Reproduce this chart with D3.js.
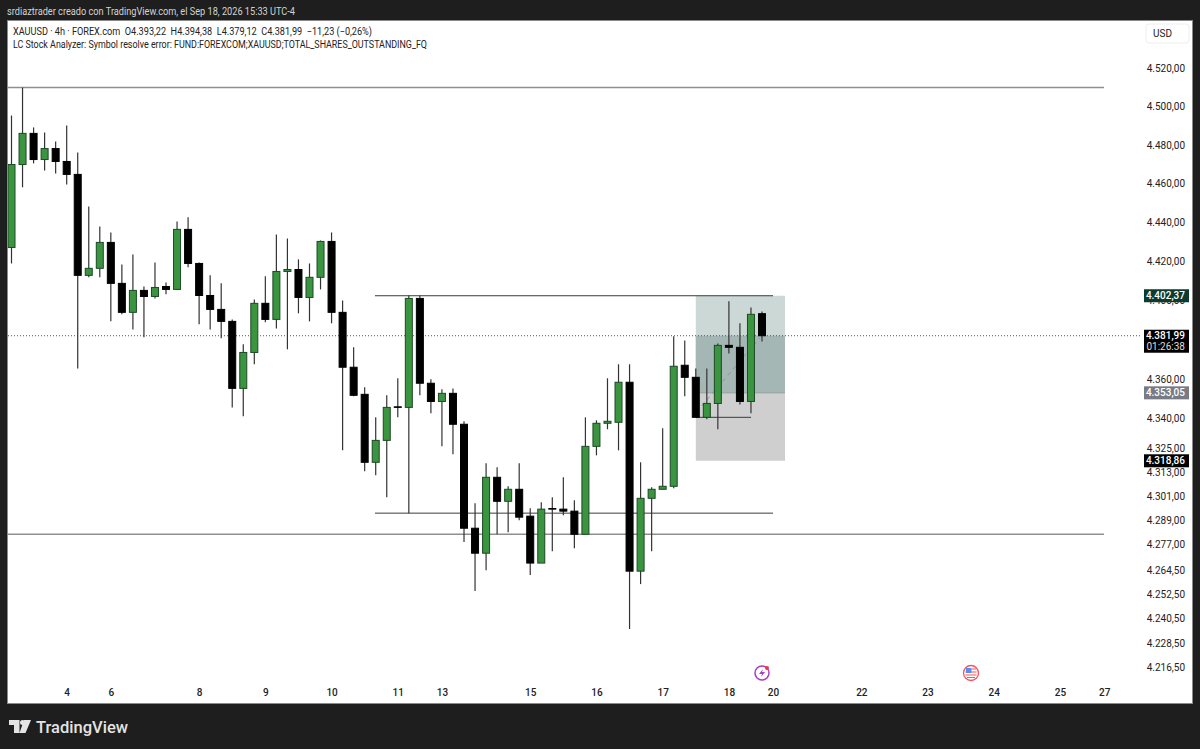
<!DOCTYPE html>
<html><head><meta charset="utf-8">
<script src="https://cdn.jsdelivr.net/npm/d3@7/dist/d3.min.js"></script>
<style>html,body{margin:0;padding:0;background:#1e1e1e}svg{display:block}text{font-family:Roboto,"Noto Sans",sans-serif}</style>
</head><body><svg id="c" width="1200" height="749"></svg>
<script>
const opens=[4427.1,4469.9,4486.1,4472.5,4478.2,4471.5,4464.8,4412.8,4416.4,4429.7,4408.7,4393.9,4405.1,4402,4407.1,4405.6,4436.4,4418.9,4402.5,4395.4,4389.3,4355.3,4373.5,4398.5,4390.3,4414.8,4415.8,4401.5,4411.8,4430.2,4393.9,4366,4352.3,4318.1,4329.1,4346,4345.7,4401,4357.9,4348.7,4352.8,4337.2,4285.2,4272.8,4310.6,4298.6,4304.6,4291.2,4267.9,4295,4294.7,4293.7,4282.2,4326.1,4337.7,4338.2,4358.4,4263.9,4300.1,4304.6,4306.1,4367,4360.9,4340.7,4347.7,4377.1,4376.1,4348.7,4393.22];
const highs=[4495.4,4510,4489.2,4486.6,4481.9,4490.2,4476.2,4448.2,4437.9,4434.8,4418.4,4423.5,4407.1,4419.4,4409.2,4440.5,4442.6,4419.4,4412.8,4408.7,4390.3,4377.6,4400.5,4412.3,4433.8,4431.7,4421,4418.9,4430.7,4434.8,4400,4376.1,4355.9,4340.7,4351.8,4360.4,4402.5,4402.5,4359.9,4354.8,4355.3,4338.7,4297.6,4317.6,4315.6,4306.1,4317.6,4295.2,4298.1,4300.6,4310.6,4299.1,4340.7,4339.2,4360.4,4367.5,4367.5,4318.1,4305.6,4335.2,4381.7,4379.6,4365.4,4365.4,4378.1,4399.5,4388.3,4396.4,4394.38];
const lows=[4418.9,4458.1,4470.5,4466.8,4465.3,4459.6,4365.4,4411.8,4411.8,4389.3,4392.9,4385.2,4381.2,4401,4403.1,4405.6,4416.9,4387.8,4385.2,4380.7,4345.7,4341.2,4367.5,4388.8,4385.7,4375.1,4393.4,4389.3,4405.6,4388.3,4324.1,4351.3,4313.6,4311.6,4300.6,4340.7,4292.7,4351.8,4342.7,4326.1,4322.1,4278.3,4254.1,4264.4,4282.2,4283.2,4289.2,4262,4267.9,4273.8,4291.7,4275.3,4282.2,4321.6,4334.7,4324.1,4235.4,4257.5,4273.8,4304.6,4305.1,4351.3,4340.7,4339.7,4334.7,4373,4347.2,4342.7,4379.12];
const closes=[4469.9,4486.1,4472.5,4478.2,4471.5,4464.8,4412.8,4416.4,4429.7,4408.7,4393.9,4405.1,4402,4406.6,4405.6,4436.4,4418.9,4402.5,4395.4,4389.3,4355.3,4373.5,4398.5,4390.3,4414.8,4415.8,4401.5,4411.8,4430.2,4393.9,4366,4351.8,4318.1,4329.1,4345.7,4345.7,4401,4357.9,4348.7,4352.8,4337.2,4285.2,4272.8,4310.6,4298.6,4304.6,4290.7,4267.9,4294.7,4294.7,4293.7,4282.2,4326.1,4337.7,4338.7,4358.4,4263.9,4300.1,4304.6,4306.1,4366.5,4360.9,4340.7,4347.7,4377.1,4376.1,4348.7,4392.9,4381.99];
const priceTicks=[4520,4500,4480,4460,4440,4420,4400,4360,4340,4325,4313,4301,4289,4277,4264.5,4252.5,4240.5,4228.5,4216.5];
const dayLabels=["4","6","8","9","10","11","13","15","16","17","18","20","22","23","24","25","27"];
const dayIndex=[5,9,17,23,29,35,39,47,53,59,65,69,77,83,89,95,99];
const fullLevels=[4510,4282.2];
const midLevels=[4402.37,4292.7];
const shortLevel=4340.7;
const lastPrice=4381.99, entryPrice=4353.05, targetPrice=4402.37, stopPrice=4318.86;

const fmt=d3.formatLocale({decimal:",",thousands:".",grouping:[3]}).format(",.2f");
const svg=d3.select("#c");
const y=d3.scaleLog().domain([4216.5,4520]).range([667.5,68.5]);
const x=d3.scaleLinear().domain([0,68]).range([11.5,762]);
const bw=7;

svg.append("rect").attr("width",1200).attr("height",749).attr("fill","#1e1e1e");
svg.append("rect").attr("x",7.5).attr("y",20.5).attr("width",1185).attr("height",683).attr("fill","#fff").attr("stroke","#8a8a8a").attr("stroke-width",1);
svg.append("clipPath").attr("id","plot").append("rect").attr("x",8).attr("y",21).attr("width",1132).attr("height",682);
const plot=svg.append("g").attr("clip-path","url(#plot)");

svg.append("text").attr("x",7).attr("y",15).attr("fill","#d4d4d4").attr("font-size",10).attr("textLength",288).attr("lengthAdjust","spacingAndGlyphs").text("srdiaztrader creado con TradingView.com, el Sep 18, 2026 15:33 UTC-4");
svg.append("text").attr("x",13).attr("y",35).attr("fill","#222").attr("font-size",10).attr("textLength",359).attr("lengthAdjust","spacingAndGlyphs").attr("xml:space","preserve").text("XAUUSD · 4h · FOREX.com  O4.393,22  H4.394,38  L4.379,12  C4.381,99  −11,23 (−0,26%)");
svg.append("text").attr("x",13).attr("y",48).attr("fill","#222").attr("font-size",10).attr("textLength",414).attr("lengthAdjust","spacingAndGlyphs").text("LC Stock Analyzer: Symbol resolve error: FUND:FOREXCOM;XAUUSD;TOTAL_SHARES_OUTSTANDING_FQ");

// position tool
const px0=x(62), px1=785;
plot.append("rect").attr("x",px0).attr("width",px1-px0).attr("y",y(targetPrice)).attr("height",y(entryPrice)-y(targetPrice)).attr("fill","#cbd8d5");
plot.append("rect").attr("x",px0).attr("width",px1-px0).attr("y",y(lastPrice)).attr("height",y(entryPrice)-y(lastPrice)).attr("fill","#a5b7b4");
plot.append("rect").attr("x",px0).attr("width",px1-px0).attr("y",y(entryPrice)).attr("height",y(stopPrice)-y(entryPrice)).attr("fill","#cfcfcf");
plot.append("line").attr("x1",px0).attr("x2",px1).attr("y1",y(entryPrice)).attr("y2",y(entryPrice)).attr("stroke","#8fa09d");
plot.append("line").attr("x1",x(62)+6).attr("x2",x(68)-2).attr("y1",y(4346.5)).attr("y2",y(4381)).attr("stroke","#8b9895").attr("stroke-dasharray","4 4");

// levels
plot.selectAll(".fl").data(fullLevels).join("line").attr("x1",8).attr("x2",1104).attr("y1",d=>y(d)).attr("y2",d=>y(d)).attr("stroke","#8f8f8f").attr("stroke-width",1.5);
plot.selectAll(".ml").data(midLevels).join("line").attr("x1",375).attr("x2",773).attr("y1",d=>y(d)).attr("y2",d=>y(d)).attr("stroke","#3c3c3c").attr("stroke-width",1);
plot.append("line").attr("x1",x(62)).attr("x2",751).attr("y1",y(shortLevel)).attr("y2",y(shortLevel)).attr("stroke","#3c3c3c");
plot.append("line").attr("x1",8).attr("x2",1140).attr("y1",y(lastPrice)).attr("y2",y(lastPrice)).attr("stroke","#555").attr("stroke-dasharray","1 2");

// candles
const idx=d3.range(opens.length);
const isUp=i=>closes[i]>opens[i];
plot.selectAll(".wick").data(idx).join("line").attr("x1",i=>x(i)).attr("x2",i=>x(i)).attr("y1",i=>y(highs[i])).attr("y2",i=>y(lows[i])).attr("stroke","#333").attr("stroke-width",1.2);
plot.selectAll(".body").data(idx).join("rect").attr("x",i=>x(i)-bw/2).attr("width",bw)
  .attr("y",i=>y(Math.max(opens[i],closes[i]))).attr("height",i=>Math.abs(y(opens[i])-y(closes[i])))
  .attr("fill",i=>isUp(i)?"#3a9440":"#000").attr("stroke",i=>isUp(i)?"#1c4a25":"#000").attr("stroke-width",1);

// price axis
const yAxis=d3.axisRight(y).tickValues(priceTicks).tickFormat(fmt).tickSize(0);
const ya=svg.append("g").attr("transform","translate(1145,0)").call(yAxis);
ya.select(".domain").remove();
ya.selectAll("text").attr("font-size",10).attr("fill","#222").attr("x",40).attr("text-anchor","end").attr("font-family",'Roboto,"Noto Sans",sans-serif');

// time axis
const xAxis=d3.axisBottom(x).tickValues(dayIndex).tickFormat((d,i)=>dayLabels[i]).tickSize(0);
const xa=svg.append("g").attr("transform","translate(0,687)").call(xAxis);
xa.select(".domain").remove();
xa.selectAll("text").attr("font-size",10).attr("fill","#222").attr("y",2).attr("font-family",'Roboto,"Noto Sans",sans-serif').attr("font-weight",500);

// price labels
function tag(p,fill,txt,h=13){
  svg.append("rect").attr("x",1144).attr("width",45).attr("y",y(p)-h/2).attr("height",h).attr("fill",fill);
  svg.append("text").attr("x",1185).attr("y",y(p)+3.5).attr("text-anchor","end").attr("fill","#fff").attr("font-size",10).attr("font-weight",500).text(txt);
}
tag(targetPrice,"#0d3b30",fmt(targetPrice));
tag(entryPrice,"#787b86",fmt(entryPrice));
tag(stopPrice,"#000",fmt(stopPrice));
svg.append("rect").attr("x",1144).attr("width",45).attr("y",y(lastPrice)-6).attr("height",23).attr("fill","#000");
svg.append("text").attr("x",1185).attr("y",y(lastPrice)+3.5).attr("text-anchor","end").attr("fill","#fff").attr("font-size",10).attr("font-weight",500).text(fmt(lastPrice));
svg.append("text").attr("x",1185).attr("y",y(lastPrice)+14).attr("text-anchor","end").attr("fill","#ddd").attr("font-size",10).text("01:26:38");

// USD
svg.append("rect").attr("x",1146).attr("y",24).attr("width",43).attr("height",19).attr("rx",3).attr("fill","#fff").attr("stroke","#eee");
svg.append("text").attr("x",1153).attr("y",37).attr("font-size",10).attr("fill","#222").text("USD");

// event icons
const ev=svg.append("g").attr("transform","translate(762,673)");
ev.append("circle").attr("r",7).attr("fill","#fff").attr("stroke","#a63fc4").attr("stroke-width",1.5);
ev.append("path").attr("d","M1,-4 L-3,1 L0,1 L-1,4 L3,-1 L0,-1 Z").attr("fill","#a63fc4");
ev.append("circle").attr("cx",5).attr("cy",-5).attr("r",2).attr("fill","#f23645");
const fl=svg.append("g").attr("transform","translate(971,673)");
fl.append("circle").attr("r",7.5).attr("fill","#fff").attr("stroke","#f7525f").attr("stroke-width",1.3);
fl.append("path").attr("d","M-5.5,-1 H5.5 M-5.5,2 H5.5").attr("stroke","#f7525f").attr("stroke-width",1.2);
fl.append("rect").attr("x",-5).attr("y",-5).attr("width",5.5).attr("height",5).attr("fill","#5b8def");
fl.append("path").attr("d","M0.5,-4 H5 M-4,4.5 H4").attr("stroke","#f7525f").attr("stroke-width",1.2);

// footer
const lg=svg.append("g").attr("fill","#e4e4e4");
lg.append("path").attr("d","M9,720 H19.5 V733 H14 V725 H9 Z M24,720 H31 L25.5,733 H19.5 Z");
lg.append("circle").attr("cx",22.5).attr("cy",722.5).attr("r",2.5);
svg.append("text").attr("x",36).attr("y",733).attr("fill","#e4e4e4").attr("font-size",16.5).attr("font-weight",500).attr("font-family","Inter,sans-serif").attr("textLength",92).attr("lengthAdjust","spacingAndGlyphs").text("TradingView");
</script></body></html>
